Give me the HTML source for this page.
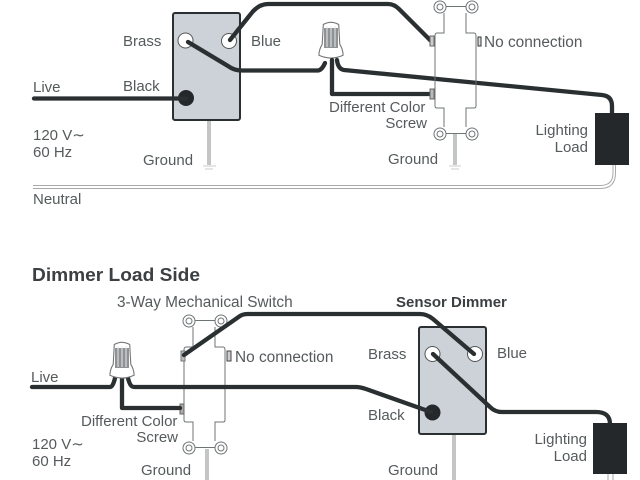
<!DOCTYPE html>
<html>
<head>
<meta charset="utf-8">
<style>
html,body{margin:0;padding:0;background:#fff;width:640px;height:480px;overflow:hidden}
svg{display:block}
text{font-family:"Liberation Sans",sans-serif;font-size:15px;fill:#555a5c}
.w{fill:none;stroke:#2a2f31;stroke-width:4.300;stroke-linecap:round;stroke-linejoin:round}
.o{fill:none;stroke:#6f7476;stroke-width:1}
.g{stroke:#c4c6c6;stroke-width:4;fill:none}
.n{font-size:15.400px}
.b{font-weight:bold;fill:#3c4042}
</style>
</head>
<body>
<svg width="640" height="480" viewBox="0 0 640 480" xmlns="http://www.w3.org/2000/svg">
<defs>
<g id="sw">
  <path class="o" d="M6 6.500H26M6 133.500H26M4 13V33H-3Q-5 33 -5 36V106Q-5 108 -3 108H4V127M26 13V33H34Q36 33 36 36V106Q36 108 34 108H26V127"/>
  <circle class="o" cx="0" cy="7" r="6"/><circle class="o" cx="0" cy="7" r="3"/>
  <circle class="o" cx="32" cy="7" r="6"/><circle class="o" cx="32" cy="7" r="3"/>
  <circle class="o" cx="0" cy="134" r="6"/><circle class="o" cx="0" cy="134" r="3"/>
  <circle class="o" cx="32" cy="134" r="6"/><circle class="o" cx="32" cy="134" r="3"/>
</g>
<g id="nut">
  <path transform="scale(1.100)" d="M-7 -15Q0 -19 7 -15L8 3Q11 8 11 13Q0 18 -11 13Q-11 8 -8 3Z" fill="#fff" stroke="#777" stroke-width="1"/>
  <path d="M-7 -13L-7 7H7L7 -13Z" fill="#8e9294"/>
  <path d="M-4 -15V6M0 -15V6M4 -15V6" stroke="#e8e8e8" stroke-width="1"/>
</g>
</defs>

<!-- TOP -->
<rect x="173" y="13" width="67" height="107" rx="2" fill="#ccd2d8" stroke="#2a2f31" stroke-width="2"/>
<path class="g" d="M209 121V165"/>
<path d="M203 166H216M205 169H213" stroke="#ccc" stroke-width="1"/>
<circle cx="185.500" cy="40.500" r="7.500" fill="#fff" stroke="#555" stroke-width="1"/>
<circle cx="229" cy="41" r="7.500" fill="#fff" stroke="#555" stroke-width="1"/>
<circle cx="186" cy="98" r="8" fill="#24282a"/>
<path class="w" d="M34 98.500H186"/>
<path class="w" d="M230 40L250 15Q258 4 268 4H388Q394 4 399 9L431 41"/>
<path class="w" d="M188 42L228 66Q234 70.500 242 70.500H318Q322 70 325 63"/>
<use href="#nut" x="331" y="41"/>
<path class="w" d="M332 60V94H431"/>
<path class="w" d="M337 60Q338 69 344 70L602 95Q612 96 612 106V113"/>
<use href="#sw" x="440" y="0"/>
<rect x="430" y="36" width="4" height="10" fill="#ccc" stroke="#666" stroke-width="1"/>
<rect x="478" y="37" width="3" height="9" fill="#ddd" stroke="#333" stroke-width="1"/>
<rect x="430" y="89" width="4" height="10" fill="#bbb" stroke="#666" stroke-width="1"/>
<path class="g" d="M455 134V165"/>
<path d="M449 166H461M451 169H459" stroke="#ccc" stroke-width="1"/>
<rect x="595" y="113" width="34" height="52" fill="#24282a"/>
<path d="M33 185.500H600Q613 185.500 613 173V165M33 188.500H600Q615.500 188.500 615.500 173V165" fill="none" stroke="#a8aaaa" stroke-width="1"/>

<text x="123" y="46">Brass</text>
<text x="251" y="46">Blue</text>
<text x="33" y="92">Live</text>
<text x="123" y="91">Black</text>
<text x="33" y="140">120 V∼</text>
<text x="33" y="157">60 Hz</text>
<text x="143" y="165">Ground</text>
<text x="33" y="204">Neutral</text>
<text class="n" x="484" y="47">No connection</text>
<text x="329" y="112">Different Color</text>
<text x="427" y="128" text-anchor="end">Screw</text>
<text x="388" y="164">Ground</text>
<text x="588" y="135" text-anchor="end">Lighting</text>
<text x="588" y="152" text-anchor="end">Load</text>

<!-- BOTTOM -->
<text class="b" x="32" y="281" style="font-size:18px" textLength="168" lengthAdjust="spacingAndGlyphs">Dimmer Load Side</text>
<text class="n" x="117" y="307">3-Way Mechanical Switch</text>
<text class="b" x="396" y="307" style="font-size:15px">Sensor Dimmer</text>

<rect x="419" y="327" width="67" height="107" rx="2" fill="#ccd2d8" stroke="#2a2f31" stroke-width="2"/>
<path class="g" d="M454 435V480"/>
<circle cx="432.500" cy="354" r="7.500" fill="#fff" stroke="#555" stroke-width="1"/>
<circle cx="475" cy="354" r="7.500" fill="#fff" stroke="#555" stroke-width="1"/>
<circle cx="432.500" cy="412.500" r="8" fill="#24282a"/>

<use href="#sw" x="189" y="314"/>
<rect x="181" y="351" width="4" height="10" fill="#bbb" stroke="#777" stroke-width="1"/>
<rect x="227" y="351" width="4" height="10" fill="#ccc" stroke="#444" stroke-width="1"/>
<rect x="180" y="404" width="4" height="10" fill="#aaa" stroke="#666" stroke-width="1"/>
<path class="g" d="M207 449V480"/>

<path class="w" d="M184 355L240 316Q243 314 248 314H420Q427 314 433 319L474 354"/>
<path class="w" d="M32 387H110Q113 387 115 378"/>
<path class="w" d="M122 378V408H180"/>
<path class="w" d="M128 378Q130 387 134 387H356Q360 387 366 389L431 412"/>
<path class="w" d="M433 354L490 407Q495 412 502 412H596Q610 412 610 424"/>
<use href="#nut" x="122" y="361"/>
<rect x="593" y="423" width="34" height="51" fill="#24282a"/>
<path d="M608 474V480M613 474V480" stroke="#a8aaaa" stroke-width="1"/>

<text x="31" y="382">Live</text>
<text x="81" y="426">Different Color</text>
<text x="178" y="442" text-anchor="end">Screw</text>
<text x="32" y="449">120 V∼</text>
<text x="32" y="466">60 Hz</text>
<text x="141" y="475">Ground</text>
<text class="n" x="235" y="362">No connection</text>
<text x="368" y="359">Brass</text>
<text x="497" y="358">Blue</text>
<text x="368" y="420">Black</text>
<text x="388" y="475">Ground</text>
<text x="587" y="444" text-anchor="end">Lighting</text>
<text x="587" y="461" text-anchor="end">Load</text>
</svg>
</body>
</html>
